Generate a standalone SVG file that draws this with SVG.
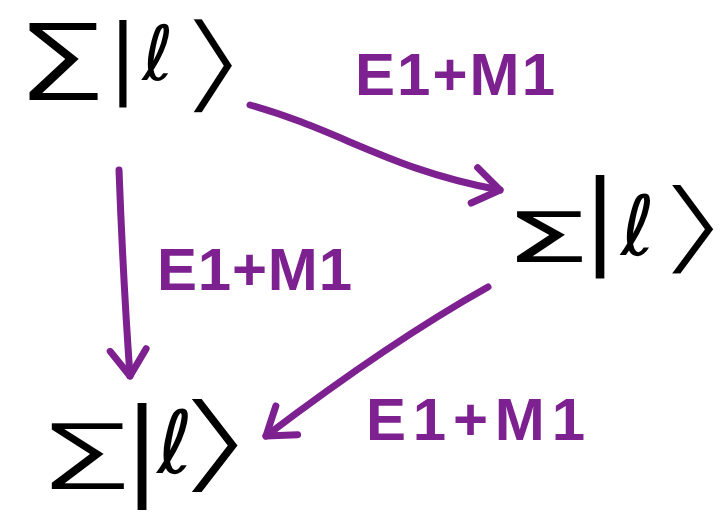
<svg xmlns="http://www.w3.org/2000/svg" width="724" height="513" viewBox="0 0 724 513">
<style>
.g{font-family:"DejaVu Sans",sans-serif;fill:#000;text-anchor:middle}
.thin{stroke:#fff;stroke-width:5}
.semi{stroke:#fff;stroke-width:2}
.lbl{font-family:"Liberation Sans",Arial,sans-serif;font-weight:bold;fill:#7e2190;font-size:60px}
.c{fill:none;stroke:#7e2190;stroke-width:7;stroke-linecap:round;stroke-linejoin:round}
</style>
<defs>
<marker id="ah" markerUnits="userSpaceOnUse" viewBox="-40 -30 50 60" markerWidth="50" markerHeight="60" refX="0" refY="0" orient="auto" overflow="visible">
<path d="M-26,-18 L0,0 L-26,18" fill="none" stroke="#7e2190" stroke-width="7" stroke-linecap="round" stroke-linejoin="round"/>
</marker>
</defs>
<rect width="724" height="513" fill="#fff"/>
<g id="node-top">
<text class="g semi" font-size="108" transform="translate(61,101) scale(1.4,1)">Σ</text>
<text class="g" font-size="87" transform="translate(123,86)">|</text>
<text class="g" font-size="76" transform="translate(158,80)">ℓ</text>
<text class="g thin" font-size="110" transform="translate(213,100) scale(2.1,1)">⟩</text>
</g>
<g id="node-right">
<text class="g" font-size="69" transform="translate(547,262) scale(2.0,1)">Σ</text>
<text class="g" font-size="104" transform="translate(600,254)">|</text>
<text class="g" font-size="83" transform="translate(638,255)">ℓ</text>
<text class="g thin" font-size="105" transform="translate(693,262) scale(2.4,1)">⟩</text>
</g>
<g id="node-bottom">
<text class="g semi" font-size="92" transform="translate(85,490) scale(1.75,1)">Σ</text>
<text class="g" font-size="107" transform="translate(142,484)">|</text>
<text class="g" font-size="87" transform="translate(175,473)">ℓ</text>
<text class="g thin" font-size="110" transform="translate(215,480) scale(2.5,1)">⟩</text>
</g>
<g id="connectors">
<path class="c" d="M250,105 C340,130 390,170 500,190" marker-end="url(#ah)"/>
<path class="c" d="M119,170 C122,250 126,320 130,376" marker-end="url(#ah)"/>
<path class="c" d="M488,287 C420,325 340,380 266,436" marker-end="url(#ah)"/>
</g>
<g id="labels">
<text class="lbl" x="355" y="95" textLength="200" lengthAdjust="spacing">E1+M1</text>
<text class="lbl" x="157" y="290" textLength="195" lengthAdjust="spacing">E1+M1</text>
<text class="lbl" x="366" y="440" textLength="219" lengthAdjust="spacing">E1+M1</text>
</g>
</svg>
